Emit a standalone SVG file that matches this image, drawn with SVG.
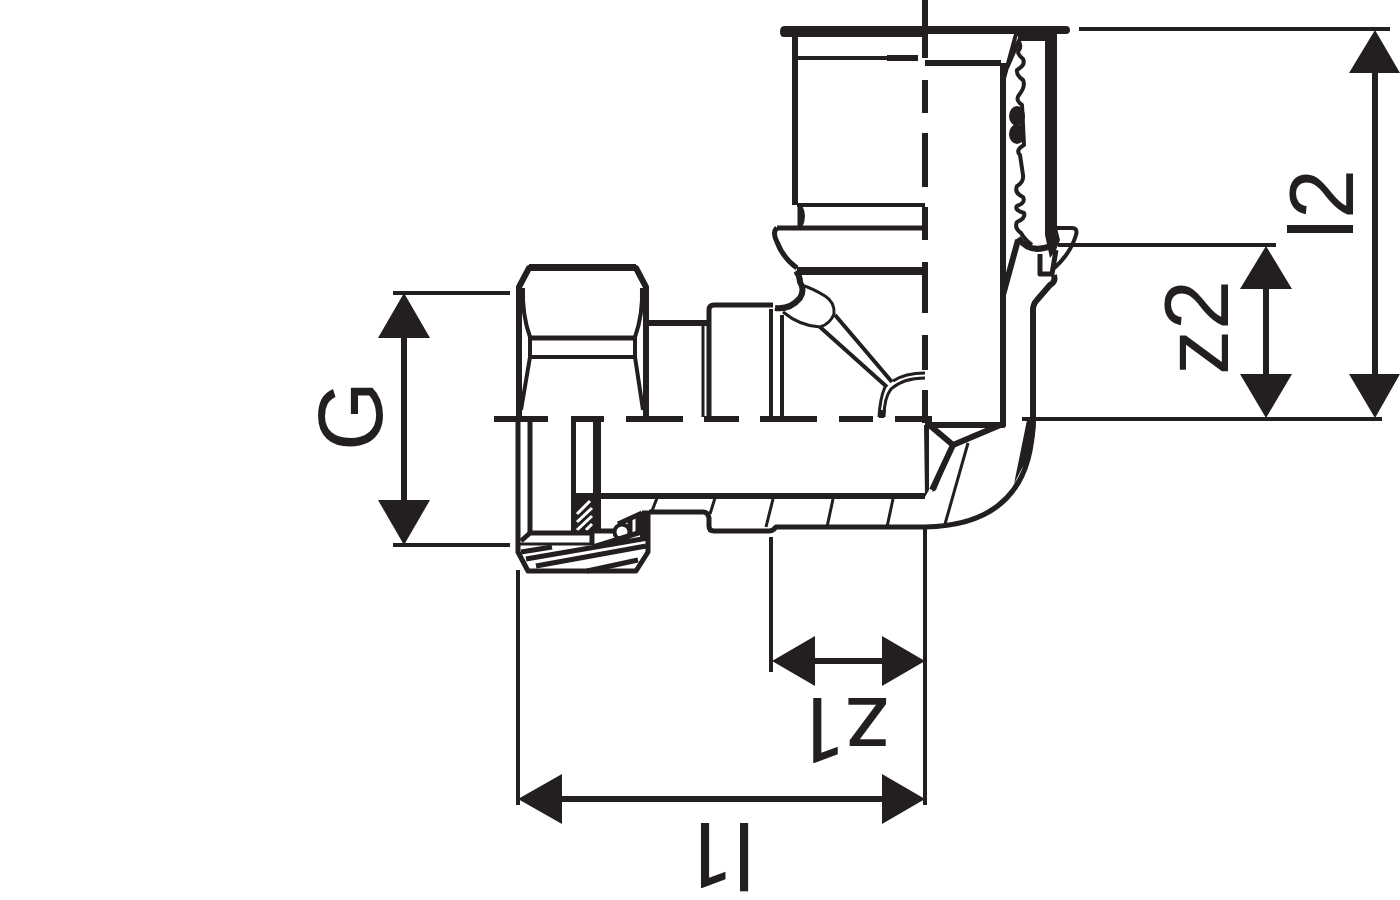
<svg xmlns="http://www.w3.org/2000/svg" width="1400" height="900" viewBox="0 0 1400 900">
<style>
.k{fill:none;stroke:#231f20;stroke-linejoin:round}
.s3{stroke-width:3}.s4{stroke-width:4}.s5{stroke-width:5}.s6{stroke-width:6}.s7{stroke-width:7}.s8{stroke-width:8}
.f{fill:#231f20;stroke:none}
.w{fill:none;stroke:#fff;stroke-width:3}
.t{font-family:"Liberation Sans",sans-serif;font-size:90px;fill:#231f20}
.r{font-family:Roboto,"Liberation Sans",sans-serif;font-size:90px;fill:#231f20}
</style>
<rect width="1400" height="900" fill="#fff"/>
<g id="fitting">
<g id="centre-lines" class="k s6">
<path d="M925 0V58M925 80V113M925 133V187M925 207V240M925 262V313M925 335V370M925 390V423"/>
<path d="M494 419H548M571 419H604M626 419H683M704 419H739M760 419H817M839 419H873M895 419H932"/>
</g>
<g id="upper-socket">
<path class="f" d="M784 26H1066Q1070 26 1070 30Q1070 34 1066 34H1057V41H1021L1016 34H925V37H784Q780 37 780 32Q780 26 784 26Z"/>
<path class="k s6" d="M795 37V205"/>
<path class="k s4" d="M798 58H887M797 205H925"/>
<path class="k s6" d="M887 58H918M925 63H1001"/>
<path class="k s6" d="M1003 63V425H925"/>
<path class="k s4" d="M1016 34L1003 82M1021 36L1007 68"/>
<path class="f" d="M1045 38H1057V228L1060 240L1056 250L1050 258L1045 235Z"/>
<path class="k s4" d="M1018 40Q1022 46 1019 50Q1016 53 1023 59Q1026 65 1017 70Q1016 75 1023 80Q1026 86 1019 95Q1015 100 1022 105L1024 145Q1015 150 1020 155L1023 175Q1024 182 1017 186Q1014 193 1023 197Q1026 203 1017 206Q1014 210 1024 213Q1026 218 1017 222Q1014 228 1021 233Q1025 240 1032 245"/>
<ellipse class="f" cx="1017" cy="116" rx="8" ry="10"/><ellipse class="f" cx="1017" cy="134" rx="8" ry="10"/>
<path class="k s6" d="M1018 240L1003 295"/>
<path class="k s6" d="M1018 238Q1028 252 1044 248L1052 246"/>
<path class="k s4" d="M1054 228H1072Q1078 228 1076 235Q1070 255 1052 270"/>
<path class="k s5" d="M1040 254V274H1052L1056 250"/>
<path class="k s6" d="M1054 275Q1056 282 1050 285L1037 300Q1033 304 1033 310V420"/>
<path class="k s5" d="M800 207Q805 216 800 226M800 205V228"/>
<path class="k s5" d="M777 228H925"/>
<path class="k s8" d="M797 271H925"/>
<path class="k s5" d="M777 228Q772 232 777 242Q783 258 797 268"/>
</g>
<g id="elbow">
<path class="k s6" d="M796 271Q800 276 800 282Q805 290 800 298Q790 310 775 308"/>
<path class="k s3" d="M801 285Q812 288 825 296Q835 302 834 314Q830 324 820 327Q800 326 783 312"/>
<path class="k s4" d="M835 315L892 382M820 327L887 387"/>
<path class="k s3" d="M893 381Q905 373 925 373M885 387Q880 398 879 417"/>
<path class="k s3" d="M925 378Q903 378 891 389Q884 398 884 417"/>
<path class="f" d="M878 410H886L884 418H879Z"/>
<path class="k s6" d="M927 423L953 445L1005 423M953 445L932 490"/>
<path class="f" d="M924 425H929V490L925 497Z"/>
<path class="f" d="M932 492L950 445L953 448L936 490Z"/>
<path class="k s3" d="M968 443L945 524"/>
<path class="k s5" d="M925 527Q1032 525 1033 420"/>
<path class="f" d="M1027 420H1036Q1036 448 1021 470L1014 484Z"/>
</g>
<g id="branch">
<path class="k s5" d="M773 305H714Q709 305 709 310V417"/>
<path class="k s3" d="M703 325V417"/>
<path class="k s6" d="M648 323H707"/>
<path class="k s4" d="M771 309V417M782 315V417"/>
<path class="k s6" d="M601 496H925"/>
<path class="k s5" d="M649 512H703Q708 512 709 518V526Q709 531 714 531H769Q773 531 776 527H925"/>
<path class="k s3" d="M657 498L652 511M715 498L710 514M773 499L766 527M833 499L827 527M893 499L887 527"/>
</g>
<g id="nut">
<path class="k s6" d="M519 417V287L529 268H636L646 287V417"/>
<path class="k s7" d="M529 267.5H636"/>
<path class="k s4" d="M523 288Q522 315 530 337V357L521 410M642 288Q643 315 635 337V357L643 410"/>
<path class="k s5" d="M530 338H635"/>
<path class="k s4" d="M530 357H635"/>
<path class="k s5" d="M518 422V552L528 571H636L648 552V513H642M530 422V533M573.5 422V533"/>
<path class="k s8" d="M597 422V531"/>
<path class="f" d="M576 493H594V531H576Z"/>
<path class="w" d="M577 514L590 501M577 522L592 508M577 530L592 516M586 530L592 524"/>
<path class="k s5" d="M521 541L530 533H592V545M593 531H616"/>
<path class="k s3" d="M520 544H590"/>
<path class="k s5" d="M618 524L642 513M638 514V535M630 520V535"/>
<circle cx="622" cy="532" r="7.5" fill="#fff" stroke="#231f20" stroke-width="4"/>
<path class="f" d="M640 512H650V540H640Z"/>
<path class="k s5" d="M593 547L648 530M521 552L552 547M526 559L648 538M536 566L646 546M587 571L638 560"/>
</g>
</g>
<g id="dimensions">
<path class="k s4" d="M393 293H510M393 545H510M1079 29H1390M1058 245H1276M1022 419H1382M771 537V672M925 527V805M518 570V805"/>
<path class="k s6" d="M404 330V510M1266 285V380M1375 65V380M810 661H885M560 799H885"/>
<path class="f" d="M404 293L430 338H378ZM404 545L430 500H378ZM1266 246L1292 289H1240ZM1266 418L1292 374H1240ZM1375 30L1400 73H1349ZM1375 418L1400 374H1349ZM772 661L815 636V686ZM925 661L882 636V686ZM518 799L562 774V824ZM925 799L882 774V824Z"/>
</g>
<g id="labels">
<text class="t" transform="translate(382,451) rotate(-90)">G</text>
<text class="t" transform="translate(1228,375) rotate(-90)">z2</text>
<text class="t" transform="translate(1353,239) rotate(-90)">l2</text>
<text class="r" transform="translate(890,698) rotate(180)">z1</text>
<text class="r" transform="translate(755,823) rotate(180)">l1</text>
</g>
</svg>
